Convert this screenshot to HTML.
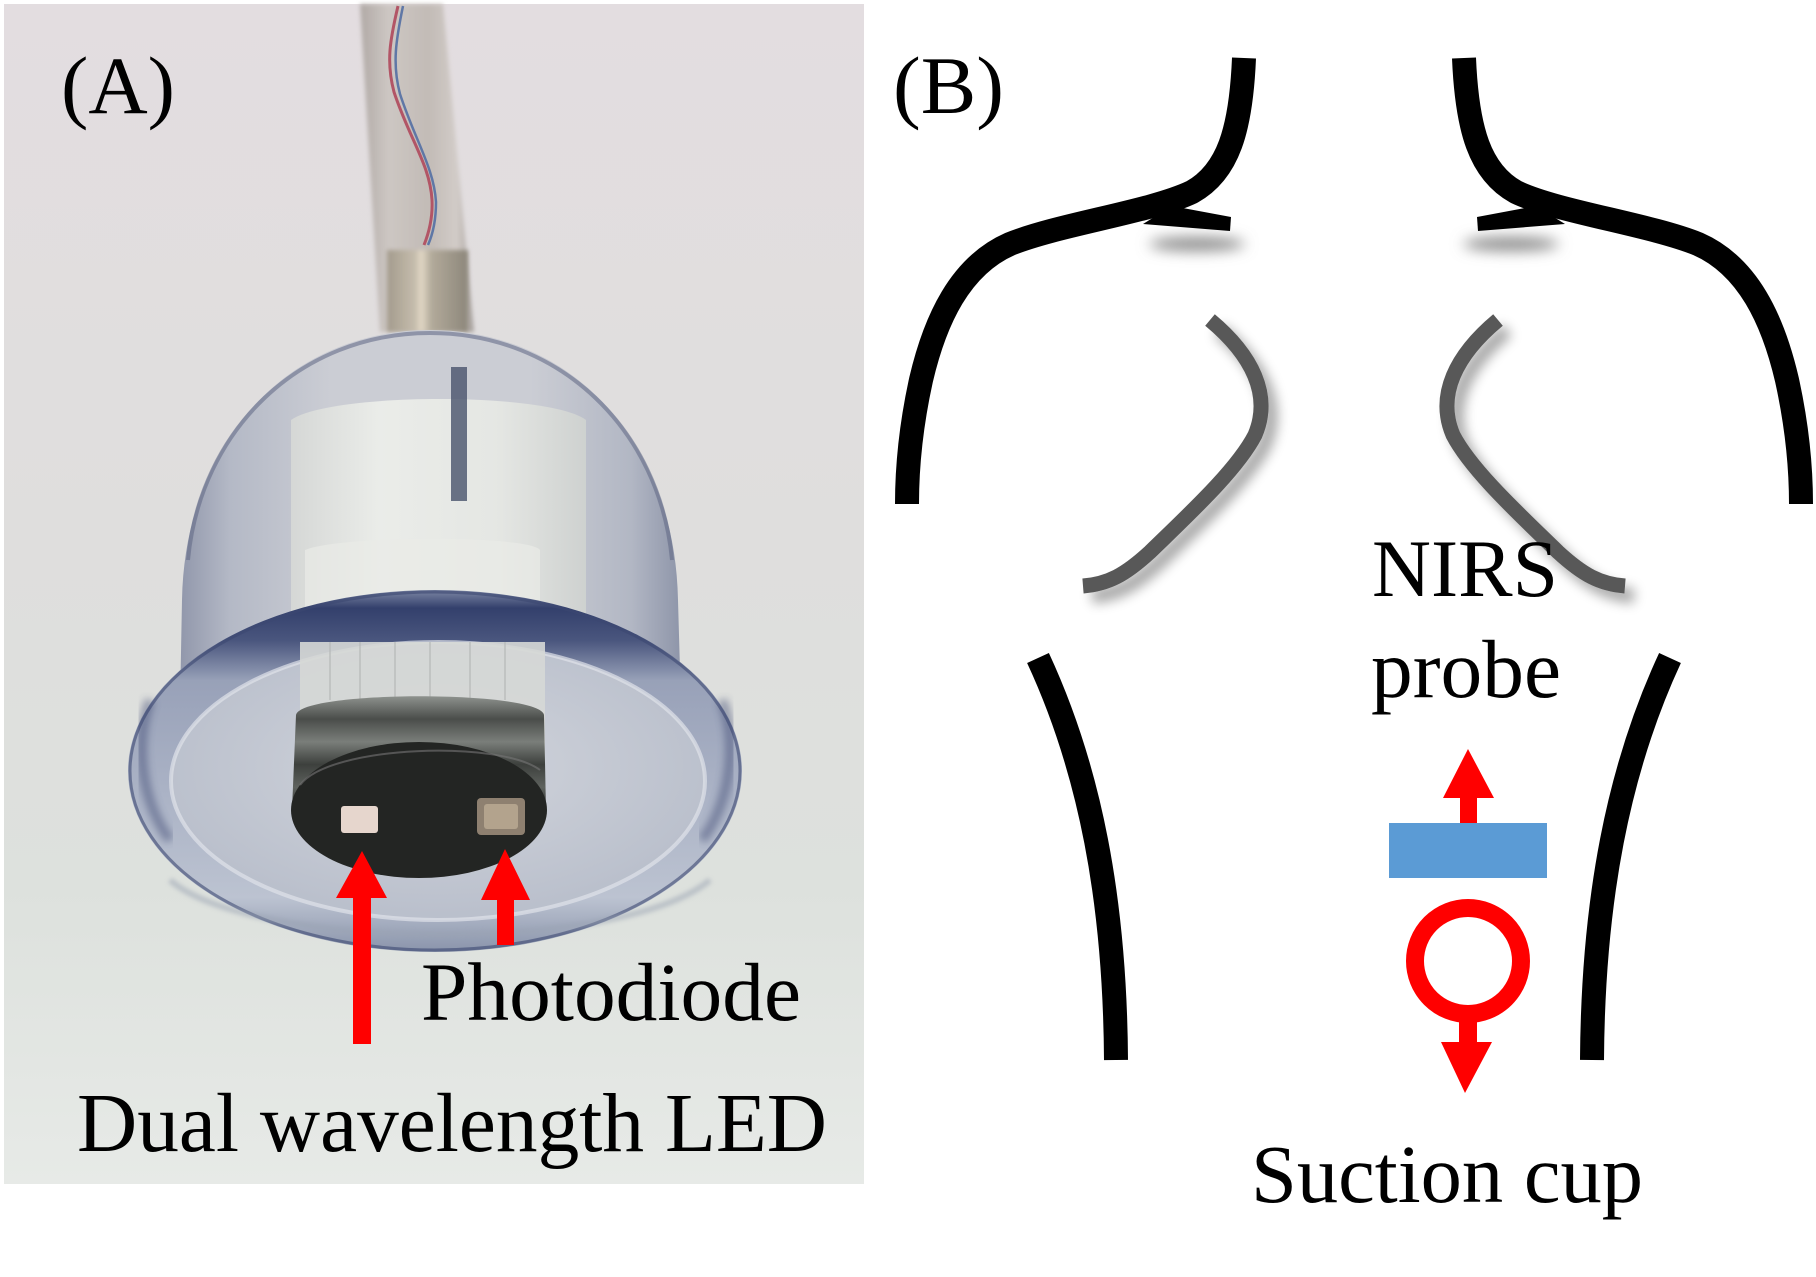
<!DOCTYPE html>
<html><head><meta charset="utf-8"><style>
html,body{margin:0;padding:0;background:#fff;}
svg{display:block;}
text{font-family:"Liberation Serif","Times New Roman",serif;fill:#000;}
</style></head><body>
<svg width="1816" height="1277" viewBox="0 0 1816 1277" xmlns="http://www.w3.org/2000/svg">
<defs>
 <linearGradient id="bg" x1="0" y1="0" x2="0" y2="1">
  <stop offset="0" stop-color="#e3dde0"/>
  <stop offset="0.45" stop-color="#dfdedd"/>
  <stop offset="0.75" stop-color="#dde1dd"/>
  <stop offset="1" stop-color="#e7eae7"/>
 </linearGradient>
 <linearGradient id="tube" x1="0" x2="1">
  <stop offset="0" stop-color="#b0a9a5"/>
  <stop offset="0.25" stop-color="#cdc7c3"/>
  <stop offset="0.6" stop-color="#c2bbb6"/>
  <stop offset="0.85" stop-color="#d2ccc8"/>
  <stop offset="1" stop-color="#a29c98"/>
 </linearGradient>
 <linearGradient id="fit" x1="0" x2="1">
  <stop offset="0" stop-color="#a39b8d"/>
  <stop offset="0.35" stop-color="#c6bdad"/>
  <stop offset="0.42" stop-color="#e2d8c6"/>
  <stop offset="0.55" stop-color="#b2aa9a"/>
  <stop offset="1" stop-color="#8d877b"/>
 </linearGradient>
 <linearGradient id="dome" x1="0" x2="1">
  <stop offset="0" stop-color="#9197ab"/>
  <stop offset="0.1" stop-color="#b4b9c6"/>
  <stop offset="0.3" stop-color="#cbcdd4"/>
  <stop offset="0.7" stop-color="#cbcdd4"/>
  <stop offset="0.9" stop-color="#b2b7c4"/>
  <stop offset="1" stop-color="#8e95a9"/>
 </linearGradient>
 <linearGradient id="cyl" x1="0" x2="1">
  <stop offset="0" stop-color="#d6d8d6"/>
  <stop offset="0.3" stop-color="#eceeea"/>
  <stop offset="0.7" stop-color="#e6e8e4"/>
  <stop offset="1" stop-color="#cfd2d0"/>
 </linearGradient>
 <linearGradient id="ring" x1="0" y1="0" x2="0" y2="1">
  <stop offset="0" stop-color="#7c86a4"/>
  <stop offset="0.05" stop-color="#33406c"/>
  <stop offset="0.14" stop-color="#4a567e"/>
  <stop offset="0.25" stop-color="#98a1b8"/>
  <stop offset="0.55" stop-color="#aab2c5"/>
  <stop offset="0.85" stop-color="#bcc3d1"/>
  <stop offset="1" stop-color="#8a94ab"/>
 </linearGradient>
 <radialGradient id="inner" cx="0.5" cy="0.45" r="0.6">
  <stop offset="0" stop-color="#d2d5dc"/>
  <stop offset="1" stop-color="#b7bdca"/>
 </radialGradient>
 <linearGradient id="thread" x1="0" y1="0" x2="0" y2="1">
  <stop offset="0" stop-color="#8e928e"/>
  <stop offset="0.2" stop-color="#4a4d4a"/>
  <stop offset="0.4" stop-color="#7a7e7a"/>
  <stop offset="0.6" stop-color="#3d403d"/>
  <stop offset="0.8" stop-color="#5e625e"/>
  <stop offset="1" stop-color="#2e302e"/>
 </linearGradient>
 <filter id="ds" x="-30%" y="-30%" width="160%" height="160%">
  <feGaussianBlur in="SourceAlpha" stdDeviation="6"/>
  <feOffset dx="9" dy="10" result="b"/>
  <feComponentTransfer><feFuncA type="linear" slope="0.35"/></feComponentTransfer>
  <feMerge><feMergeNode/><feMergeNode in="SourceGraphic"/></feMerge>
 </filter>
 <filter id="blur5" x="-50%" y="-200%" width="200%" height="500%"><feGaussianBlur stdDeviation="7"/></filter>
 <filter id="blur2" x="-300%" y="-5%" width="700%" height="110%"><feGaussianBlur stdDeviation="2.5"/></filter>
 <filter id="blur8" x="-300%" y="-5%" width="700%" height="110%"><feGaussianBlur stdDeviation="7"/></filter>
 <filter id="soft" x="-10%" y="-10%" width="120%" height="120%"><feGaussianBlur stdDeviation="2"/></filter>
 <filter id="soft4" x="-10%" y="-10%" width="120%" height="120%"><feGaussianBlur stdDeviation="4"/></filter>
</defs>

<rect width="1816" height="1277" fill="#fff"/>

<!-- ===== Panel A: photo ===== -->
<g>
 <rect x="4" y="4" width="860" height="1180" fill="url(#bg)"/>
 <!-- tube -->
 <path d="M360,4 L443,4 L474,332 L380,332 Z" fill="url(#tube)" filter="url(#soft)"/>
 <path d="M398,6 C390,40 386,62 394,92 C410,140 430,165 432,200 C433,220 428,235 424,245" fill="none" stroke="#b25566" stroke-width="3"/>
 <path d="M403,6 C396,40 392,64 400,94 C415,140 434,168 436,202 C436,222 432,236 428,245" fill="none" stroke="#5f77a6" stroke-width="2.5"/>
 <!-- metal fitting -->
 <rect x="387" y="250" width="81" height="82" fill="url(#fit)" filter="url(#soft)"/>
 <!-- dome -->
 <path d="M180,705 L182,600 C185,440 290,330 430,330 C570,330 675,440 678,600 L681,705 Z" fill="url(#dome)"/>
 <path d="M188,560 C200,430 300,333 430,333 C560,333 660,430 672,560" fill="none" stroke="#5e6684" stroke-width="4" opacity="0.55"/>
 <!-- inner white cylinder -->
 <path d="M291,720 L291,420 C330,392 550,392 586,420 L586,720 Z" fill="url(#cyl)" opacity="0.95"/>
 <path d="M305,720 L305,550 C340,535 530,535 540,550 L540,720 Z" fill="#e9ebe7" opacity="0.7"/>
 <rect x="451" y="367" width="16" height="134" fill="#48526c" opacity="0.8"/>
 <!-- flange ring -->
 <ellipse cx="435" cy="771" rx="307" ry="181" fill="url(#ring)"/>
 <ellipse cx="438" cy="781" rx="267" ry="139" fill="url(#inner)"/>
 <ellipse cx="438" cy="781" rx="267" ry="139" fill="none" stroke="#dfe3ea" stroke-width="4" opacity="0.7"/>
 <ellipse cx="435" cy="771" rx="305" ry="179" fill="none" stroke="#3c4872" stroke-width="3" opacity="0.6"/>
 <path d="M150,700 C135,740 140,800 170,840" fill="none" stroke="#34406c" stroke-width="10" opacity="0.45" filter="url(#soft4)"/>
 <path d="M722,700 C737,740 732,800 702,840" fill="none" stroke="#34406c" stroke-width="10" opacity="0.45" filter="url(#soft4)"/>
 <!-- lower cylinder inside -->
 <path d="M300,642 L545,642 L545,790 L300,790 Z" fill="#d6d8d6" opacity="0.9"/>
 <g stroke="#b6b9b8" stroke-width="2" opacity="0.6">
  <line x1="330" y1="642" x2="330" y2="700"/><line x1="360" y1="642" x2="360" y2="700"/>
  <line x1="395" y1="642" x2="395" y2="700"/><line x1="430" y1="642" x2="430" y2="700"/>
  <line x1="470" y1="642" x2="470" y2="700"/><line x1="505" y1="642" x2="505" y2="700"/>
 </g>
 <!-- threads side -->
 <path d="M296,715 C300,690 540,690 544,715 L546,810 L292,810 Z" fill="url(#thread)"/>
 <!-- disc face -->
 <ellipse cx="419" cy="810" rx="128" ry="68" fill="#232523"/>
 <path d="M300,785 C330,745 500,740 540,770" fill="none" stroke="#777" stroke-width="2" opacity="0.6"/>
 <!-- chips -->
 <rect x="341" y="806" width="37" height="27" rx="3" fill="#e6d6cd"/>
 <rect x="477" y="798" width="48" height="37" rx="4" fill="#8e8070"/>
 <rect x="484" y="804" width="34" height="25" rx="3" fill="#b3a38d"/>
 <!-- bottom shade of cup -->
 <path d="M170,880 C250,950 620,955 710,880" fill="none" stroke="#9aa3b2" stroke-width="6" opacity="0.5" filter="url(#soft)"/>
 <!-- red arrows -->
 <path d="M353,1044 L371,1044 L371,898 L387,898 L362,851 L336,898 L353,898 Z" fill="#ff0000"/>
 <path d="M497,945 L514,945 L514,900 L530,900 L505,849 L481,900 L497,900 Z" fill="#ff0000"/>
 <!-- text -->
 <text x="61" y="113" font-size="82" textLength="114" lengthAdjust="spacingAndGlyphs">(A)</text>
 <text x="421" y="1020" font-size="83" textLength="380" lengthAdjust="spacingAndGlyphs">Photodiode</text>
 <text x="77" y="1151" font-size="84" textLength="750" lengthAdjust="spacingAndGlyphs">Dual wavelength LED</text>
</g>

<!-- ===== Panel B ===== -->
<text x="893" y="113" font-size="82" textLength="111" lengthAdjust="spacingAndGlyphs">(B)</text>

<!-- clavicle shadows -->
<ellipse cx="1197" cy="244" rx="48" ry="7" fill="#8a8a8a" filter="url(#blur5)"/>
<ellipse cx="1511" cy="244" rx="48" ry="7" fill="#8a8a8a" filter="url(#blur5)"/>

<!-- left body lines -->
<g>
 <path d="M1244,58 C1241,130 1228,172 1192,192 C1150,212 1060,224 1010,244 C960,266 935,320 921,380 C910,430 907,470 907,504" fill="none" stroke="#000" stroke-width="24"/>
 <polygon points="1143,224 1172,206 1231,217 1230,231" fill="#000"/>
 <path d="M1038,658 C1090,770 1115,900 1116,1060" fill="none" stroke="#000" stroke-width="24"/>
</g>
<g transform="matrix(-1 0 0 1 2708 0)">
 <path d="M1244,58 C1241,130 1228,172 1192,192 C1150,212 1060,224 1010,244 C960,266 935,320 921,380 C910,430 907,470 907,504" fill="none" stroke="#000" stroke-width="24"/>
 <polygon points="1143,224 1172,206 1231,217 1230,231" fill="#000"/>
 <path d="M1038,658 C1090,770 1115,900 1116,1060" fill="none" stroke="#000" stroke-width="24"/>
</g>

<!-- ribs with shadows -->
<g filter="url(#ds)">
 <path d="M1210,320 C1252,355 1272,395 1255,435 C1237,470 1188,515 1150,552 C1125,575 1108,584 1083,586" fill="none" stroke="#595959" stroke-width="15"/>
 <g transform="matrix(-1 0 0 1 2708 0)">
  <path d="M1210,320 C1252,355 1272,395 1255,435 C1237,470 1188,515 1150,552 C1125,575 1108,584 1083,586" fill="none" stroke="#595959" stroke-width="15"/>
 </g>
</g>

<!-- spine line -->
<line x1="1362" y1="495" x2="1362" y2="1030" stroke="#9a9a9a" stroke-width="12" filter="url(#blur8)" opacity="0.7"/>
<line x1="1354" y1="490" x2="1354" y2="1022" stroke="#555" stroke-width="9" filter="url(#blur2)"/>

<!-- NIRS probe labels -->
<text x="1372" y="596" font-size="82" textLength="186" lengthAdjust="spacingAndGlyphs">NIRS</text>
<text x="1371" y="697" font-size="83" textLength="190" lengthAdjust="spacingAndGlyphs">probe</text>

<!-- up arrow -->
<path d="M1460,824 L1477,824 L1477,798 L1494,798 L1468,749 L1443,798 L1460,798 Z" fill="#ff0000"/>
<!-- blue probe -->
<rect x="1389" y="823" width="158" height="55" fill="#5b9bd5"/>
<!-- suction ring -->
<circle cx="1468" cy="961" r="53" fill="none" stroke="#ff0000" stroke-width="18"/>
<!-- down arrow -->
<path d="M1459,1016 L1477,1016 L1477,1042 L1492,1042 L1465,1093 L1441,1042 L1459,1042 Z" fill="#ff0000"/>

<text x="1251" y="1202" font-size="83" textLength="392" lengthAdjust="spacingAndGlyphs">Suction cup</text>
</svg>
</body></html>
